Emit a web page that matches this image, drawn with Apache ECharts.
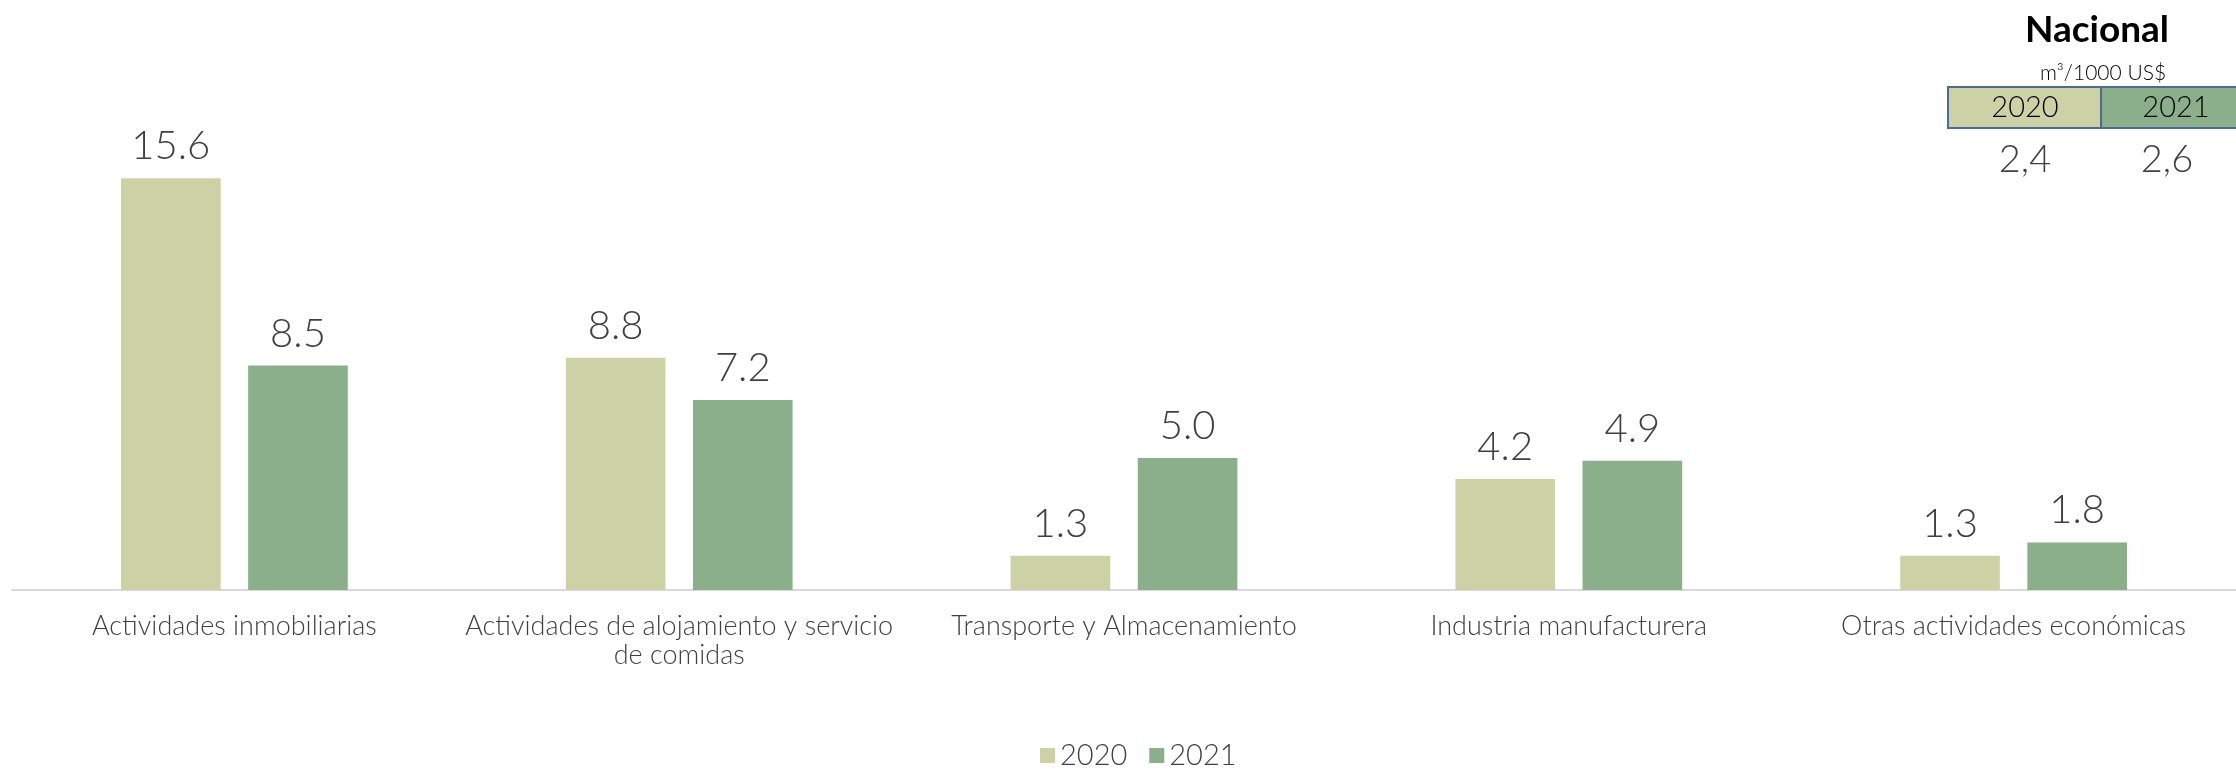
<!DOCTYPE html>
<html><head><meta charset="utf-8">
<script src="https://cdn.jsdelivr.net/npm/echarts@6/dist/echarts.min.js"></script>
<style>html,body{margin:0;padding:0;background:#fff}#c{width:2236px;height:769px}</style>
</head><body><div id="c"></div>
<script>
const categories = ['Actividades inmobiliarias', 'Actividades de alojamiento y servicio\nde comidas', 'Transporte y Almacenamiento', 'Industria manufacturera', 'Otras actividades económicas'];
const seriesNames = ['2020', '2021'];
const values2020 = [15.6, 8.8, 1.3, 4.2, 1.3];
const values2021 = [8.5, 7.2, 5.0, 4.9, 1.8];
const nationalTitle = 'Nacional';
const nationalUnit = 'm³/1000 US$';
const nationalValues = ['2,4', '2,6'];

const FONT = 'Lato';
const C2020 = '#CDD2A6', C2021 = '#8BAF8A';
const chart = echarts.init(document.getElementById('c'));
const lbl = {show:true, position:'top', distance:12, fontFamily:FONT, fontWeight:300, fontSize:40, color:'#404040', formatter: p => p.value.toFixed(1)};
chart.setOption({
  animation:false,
  grid:{left:12, width:2233, top:62, height:528},
  legend:{top:736, left:1035, itemWidth:15, itemHeight:15, itemGap:22, icon:'rect',
    textStyle:{fontFamily:FONT, fontWeight:300, fontSize:29, color:'#404040'}, data:seriesNames},
  xAxis:{type:'category', data:categories,
    axisLine:{lineStyle:{color:'#d9d9d9', width:2}}, axisTick:{show:false},
    axisLabel:{fontFamily:FONT, fontWeight:300, fontSize:27, color:'#404040', margin:22, lineHeight:29, interval:0}},
  yAxis:{type:'value', min:0, max:20, show:false, splitLine:{show:false}},
  series:[
    {name:seriesNames[0], type:'bar', data:values2020, barWidth:'22.4%', barGap:'27.6%', itemStyle:{color:C2020}, label:lbl},
    {name:seriesNames[1], type:'bar', data:values2021, barWidth:'22.4%', barGap:'27.6%', itemStyle:{color:C2021}, label:lbl}
  ],
  graphic:[
    {type:'text', style:{x:2097, y:30, text:nationalTitle, font:'bold 37px '+FONT, fill:'#000', align:'center', verticalAlign:'middle'}},
    {type:'text', style:{x:2103, y:73, text:nationalUnit, font:'300 21px '+FONT, fill:'#000', align:'center', verticalAlign:'middle'}},
    {type:'rect', shape:{x:1948, y:87, width:153, height:41}, style:{fill:C2020, stroke:'#4F6A8F', lineWidth:2}},
    {type:'rect', shape:{x:2101, y:87, width:153, height:41}, style:{fill:C2021, stroke:'#4F6A8F', lineWidth:2}},
    {type:'text', style:{x:2025, y:108, text:seriesNames[0], font:'300 29px '+FONT, fill:'#000', align:'center', verticalAlign:'middle'}},
    {type:'text', style:{x:2176, y:108, text:seriesNames[1], font:'300 29px '+FONT, fill:'#000', align:'center', verticalAlign:'middle'}},
    {type:'text', style:{x:2025, y:160, text:nationalValues[0], font:'300 38px '+FONT, fill:'#404040', align:'center', verticalAlign:'middle'}},
    {type:'text', style:{x:2167, y:160, text:nationalValues[1], font:'300 38px '+FONT, fill:'#404040', align:'center', verticalAlign:'middle'}}
  ]
});
</script></body></html>
